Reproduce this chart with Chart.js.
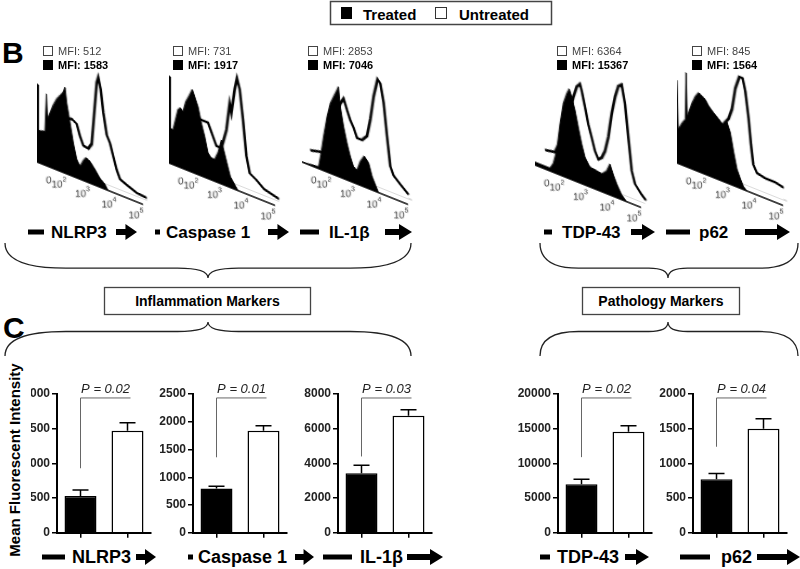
<!DOCTYPE html>
<html>
<head>
<meta charset="utf-8">
<script src="https://cdn.jsdelivr.net/npm/chart.js@4.4.1/dist/chart.umd.min.js"></script>
<style>
body { margin: 0; background: #fff; }
#fig { position: relative; width: 800px; height: 569px; overflow: hidden; font-family: "Liberation Sans", Arial, sans-serif; color: #000; }
#fig canvas { position: absolute; }
.t { position: absolute; white-space: nowrap; line-height: 1; transform: translateY(-50%); }
</style>
</head>
<body>
<div id="fig">
  <svg id="deco" width="800" height="569" style="position:absolute;left:0;top:0"></svg>
</div>
<script>
// ---- data ----
var markers = ['NLRP3', 'Caspase 1', 'IL-1β', 'TDP-43', 'p62'];
var groups = ['Treated', 'Untreated'];

// panel B: MFI values printed above each histogram
var mfiUntreated = [512, 731, 2853, 6364, 845];
var mfiTreated = [1583, 1917, 7046, 15367, 1564];

// panel B: histograms, [display channel, count]
var nlrp3Treated = [[0,78],[1,78],[1.5,32],[8,34],[9.5,72],[10.5,47],[16,63],[19.7,71],[26,80],[28,86],[29.7,71],[33,53],[36.3,34],[39.7,19],[43,13],[46.3,20],[49,24],[53,22],[58,16],[63,9],[68,5],[71,0]];
var nlrp3Untreated = [[0,20],[20,30],[28,45],[31.3,55],[34.7,57],[39.7,54],[43,43],[46.3,35],[51.3,34],[54.7,40],[57,69],[59.7,103],[61.3,109],[63.7,98],[66.3,76],[69.7,55],[73,48],[76.3,36],[79.7,24],[83,16],[89.7,13],[99.7,9],[109.7,8]];
var casp1Treated = [[0,87],[1,87],[1.5,35],[4,35],[9,57],[11.4,60],[14,57],[16.7,68],[20,75],[23.4,83],[25.7,77],[29,68],[32.4,53],[35.7,41],[39,26],[42.4,22],[45.7,22],[49,30],[52.4,44],[54.7,35],[58,23],[61.4,11],[65.7,5],[69,0]];
var casp1Untreated = [[0,20],[20,40],[28,50],[30.7,56],[35.7,56],[39,56],[44,44],[47.4,36],[52.4,36],[57.4,56],[60.7,84],[62.4,75],[65.7,100],[68,112],[70.7,102],[74,73],[77.4,38],[80.7,22],[87.4,18],[95,12],[110,8]];
var il1bTreated = [[0,0],[16.6,2],[19,16],[21.6,34],[25,55],[28.3,70],[31.6,78],[35,86],[36.5,90],[38.3,71],[41.6,52],[45,37],[48.3,25],[51.6,16],[55,14],[58.3,24],[62.3,31],[66.6,26],[70,14],[73.3,7],[76.6,0]];
var il1bUntreated = [[8.3,15],[20,18],[28,40],[38.3,74],[41.6,80],[45,70],[48.3,61],[51.6,55],[55,46],[60,46],[65,52],[68.3,70],[71.6,94],[75.6,113],[78.3,110],[81.6,92],[85,60],[88.3,31],[91.6,23],[98.3,17],[106.6,10]];
var tdp43Treated = [[0,3],[15,3],[18.3,9],[21.7,23],[25,51],[28.3,73],[31.7,84],[34.3,90],[36.7,83],[40,71],[43.3,55],[46.7,40],[50,28],[55,20],[61.7,19],[66.7,18],[71.7,23],[75,31],[78.3,22],[81.7,14],[86.7,5],[91.7,0]];
var tdp43Untreated = [[10,19],[20,21],[30,45],[38.3,83],[41.7,95],[45,99],[46.7,93],[50,78],[53.3,62],[56.7,50],[60,38],[63.3,31],[66.7,34],[70,42],[73.3,57],[76.7,82],[80,100],[83.3,112],[86.7,115],[90,97],[93.3,65],[96.7,33],[100,21],[106.7,13],[111,9]];
var p62Treated = [[0,83],[0.8,83],[1.2,34],[5,42],[8.3,47],[9.2,94],[10.2,50],[11.6,55],[15,66],[18.3,74],[21.6,79],[25,77],[28.3,75],[31.6,70],[36.6,65],[41.6,61],[46.6,56],[50,61],[53.3,52],[56.6,34],[60,18],[63.3,10],[66.6,3],[70,0]];
var p62Untreated = [[0,20],[30,50],[45,55],[51.6,65],[55,76],[58.3,98],[62.3,111],[65.6,111],[68.3,99],[71.6,73],[74,48],[76.3,29],[80,22],[88.3,20],[98.3,20],[106.6,18]];
var histTreated = [nlrp3Treated, casp1Treated, il1bTreated, tdp43Treated, p62Treated];
var histUntreated = [nlrp3Untreated, casp1Untreated, il1bUntreated, tdp43Untreated, p62Untreated];
var histTickLabels = [['0', ''], ['10', '2'], ['10', '3'], ['10', '4'], ['10', '5']];
var histTickPos = [11.7, 22, 45.5, 72, 99];

// panel C: bar heights and upper error bars
var treatedMean = [530, 800, 3430, 7000, 770];
var treatedSem = [85, 40, 460, 710, 85];
var untreatedMean = [1470, 1840, 6740, 14570, 1500];
var untreatedSem = [115, 90, 350, 860, 143];
var yMax = [2000, 2500, 8000, 20000, 2000];
var yStep = [500, 500, 2000, 5000, 500];
var pValues = ['0.02', '0.01', '0.03', '0.02', '0.04'];
var bracketLow = [930, 1360, 4400, 10900, 1240];
var bracketTop = [1943, 2429, 7770, 19430, 1943];

// ---- layout ----
var FONT = '"Liberation Sans", Arial, sans-serif';
Chart.defaults.font.family = FONT;
var SKEW = 0.4;
var histX0 = [37, 169, 302, 535, 677];
var histBase = [162, 163, 162, 165, 163];
var mfiX = [43, 173, 308, 557, 692];
var barAxisX = [57, 193, 338, 558, 693];
var rowB = [[28,44,51,116,137],[155,160,166,268,289],[300,319,329,385,412],[544,552,562,631,655],[666,690,699,745,790]];
var rowC = [[42,65,72,136,156],[188,193,198,295,314],[323,352,360,407,443],[540,550,557,625,649],[680,710,721,757,800]];

var fig = document.getElementById('fig');
var svg = document.getElementById('deco');

function addText(str, x, y, css) {
	var d = document.createElement('div');
	d.className = 't';
	d.textContent = str;
	d.style.left = x + 'px';
	d.style.top = y + 'px';
	for (var k in css) d.style[k] = css[k];
	fig.appendChild(d);
	return d;
}

function addShape(tag, attrs) {
	var el = document.createElementNS('http://www.w3.org/2000/svg', tag);
	for (var k in attrs) el.setAttribute(k, attrs[k]);
	svg.appendChild(el);
	return el;
}

function addCanvas(x, y, w, h) {
	var c = document.createElement('canvas');
	c.width = w; c.height = h;
	c.style.left = x + 'px';
	c.style.top = y + 'px';
	c.style.width = w + 'px';
	c.style.height = h + 'px';
	fig.appendChild(c);
	return c;
}

function arrowPath(x1, x2, yc) {
	var hl = Math.min(13, (x2 - x1) * 0.55);
	return 'M' + x1 + ',' + (yc - 3) + ' L' + (x2 - hl) + ',' + (yc - 3) + ' L' + (x2 - hl) + ',' + (yc - 8) +
		' L' + x2 + ',' + yc + ' L' + (x2 - hl) + ',' + (yc + 8) + ' L' + (x2 - hl) + ',' + (yc + 3) +
		' L' + x1 + ',' + (yc + 3) + ' Z';
}

function bracePath(x1, x2, xc, yEnd, yCusp) {
	var yM = yEnd + 0.72 * (yCusp - yEnd);
	var r1 = (xc - x1) * 0.3, r2 = (xc - x1) * 0.15;
	var r3 = (x2 - xc) * 0.15, r4 = (x2 - xc) * 0.3;
	return 'M' + x1 + ',' + yEnd + ' Q' + x1 + ',' + yM + ' ' + (x1 + r1) + ',' + yM +
		' L' + (xc - r2) + ',' + yM + ' Q' + xc + ',' + yM + ' ' + xc + ',' + yCusp +
		' Q' + xc + ',' + yM + ' ' + (xc + r3) + ',' + yM +
		' L' + (x2 - r4) + ',' + yM + ' Q' + x2 + ',' + yM + ' ' + x2 + ',' + yEnd;
}

// legend box
addShape('rect', {x: 330.5, y: 1.5, width: 221, height: 23, fill: '#fff', stroke: '#444', 'stroke-width': 1.5});
addShape('rect', {x: 341, y: 7, width: 11, height: 12, fill: '#000'});
addShape('rect', {x: 435.5, y: 7.5, width: 11, height: 11, fill: '#fff', stroke: '#333', 'stroke-width': 1});
addText(groups[0], 363, 13.5, {fontSize: '15px', fontWeight: 'bold'});
addText(groups[1], 459, 13.5, {fontSize: '15px', fontWeight: 'bold'});

// panel letters
addText('B', 2, 53, {fontSize: '30px', fontWeight: 'bold'});
addText('C', 3, 328, {fontSize: '30px', fontWeight: 'bold'});

// braces and group boxes
addShape('path', {d: bracePath(5, 411, 208, 243, 278), fill: 'none', stroke: '#222', 'stroke-width': 1.3});
addShape('path', {d: bracePath(540, 798, 668, 243, 278), fill: 'none', stroke: '#222', 'stroke-width': 1.3});
addShape('path', {d: bracePath(5, 411, 208, 356, 322), fill: 'none', stroke: '#222', 'stroke-width': 1.3});
addShape('path', {d: bracePath(540, 798, 668, 356, 322), fill: 'none', stroke: '#222', 'stroke-width': 1.3});
addShape('rect', {x: 104.5, y: 287.5, width: 206, height: 27, fill: '#fff', stroke: '#444', 'stroke-width': 1.3});
addShape('rect', {x: 582.5, y: 287.5, width: 157, height: 27, fill: '#fff', stroke: '#444', 'stroke-width': 1.3});
addText('Inflammation Markers', 207.5, 301, {fontSize: '14px', fontWeight: 'bold', transform: 'translate(-50%,-50%)'});
addText('Pathology Markers', 661, 301, {fontSize: '14px', fontWeight: 'bold', transform: 'translate(-50%,-50%)'});

// marker rows with intensity wedges
function markerRow(layout, yc, size) {
	layout.forEach(function (p, i) {
		addShape('rect', {x: p[0], y: yc - 2.5, width: p[1] - p[0], height: 5, fill: '#000'});
		addText(markers[i], p[2], yc, {fontSize: size + 'px', fontWeight: 'bold'});
		addShape('path', {d: arrowPath(p[3], p[4], yc), fill: '#000'});
	});
}
markerRow(rowB, 232, 17);
markerRow(rowC, 557, 18);

// y axis title
addText('Mean Fluorescent Intensity', 14, 460, {fontSize: '15px', fontWeight: 'bold', transform: 'translate(-50%,-50%) rotate(-90deg)'});

// ---- panel B histograms ----
function histDecor() {
	return {
		id: 'histDecor',
		beforeDatasetsDraw: function (chart) {
			var ctx = chart.ctx, xs = chart.scales.x, ys = chart.scales.y;
			ctx.save();
			ctx.strokeStyle = '#b5b5b5';
			ctx.lineWidth = 1;
			ctx.beginPath();
			ctx.moveTo(xs.getPixelForValue(40), ys.getPixelForValue(6));
			ctx.lineTo(xs.getPixelForValue(110), ys.getPixelForValue(6));
			ctx.stroke();
			ctx.restore();
		},
		afterDatasetsDraw: function (chart) {
			var ctx = chart.ctx, xs = chart.scales.x, ys = chart.scales.y;
			var y0 = ys.getPixelForValue(0);
			ctx.save();
			ctx.strokeStyle = '#000';
			ctx.lineWidth = 1.5;
			ctx.beginPath();
			ctx.moveTo(xs.getPixelForValue(0), y0);
			ctx.lineTo(xs.getPixelForValue(106), y0);
			ctx.stroke();
			ctx.fillStyle = '#333';
			ctx.textBaseline = 'middle';
			histTickLabels.forEach(function (lab, k) {
				ctx.save();
				ctx.translate(xs.getPixelForValue(histTickPos[k]), y0 + 14);
				ctx.transform(1, -SKEW, 0, 1, 0, 0);
				ctx.font = '10px ' + FONT;
				var w1 = ctx.measureText(lab[0]).width;
				ctx.font = '7px ' + FONT;
				var w2 = ctx.measureText(lab[1]).width;
				var left = -(w1 + w2) / 2;
				ctx.font = '10px ' + FONT;
				ctx.textAlign = 'left';
				ctx.fillText(lab[0], left, 0);
				ctx.font = '7px ' + FONT;
				ctx.fillText(lab[1], left + w1, -5);
				ctx.restore();
			});
			ctx.restore();
		}
	};
}

for (var i = 0; i < 5; i++) {
	var hc = addCanvas(histX0[i], histBase[i] - 120, 125, 150);
	hc.style.transformOrigin = '0px 120px';
	hc.style.transform = 'skewY(' + (Math.atan(SKEW) * 180 / Math.PI) + 'deg)';
	new Chart(hc, {
		type: 'line',
		data: {
			datasets: [
				{label: groups[0], data: histTreated[i], fill: 'origin', backgroundColor: '#000', borderColor: '#000', borderWidth: 1, pointRadius: 0, tension: 0},
				{label: groups[1], data: histUntreated[i], fill: {value: 6}, backgroundColor: '#fff', borderColor: '#000', borderWidth: 2.6, pointRadius: 0, tension: 0}
			]
		},
		options: {
			responsive: false,
			animation: false,
			events: [],
			layout: {padding: {top: 0, left: 0, right: 13, bottom: 30}, autoPadding: false},
			plugins: {legend: {display: false}, tooltip: {enabled: false}},
			scales: {
				x: {type: 'linear', min: 0, max: 112, display: false},
				y: {min: 0, max: 120, display: false}
			}
		},
		plugins: [histDecor()]
	});

	// MFI key above each histogram
	addShape('rect', {x: mfiX[i] + 0.5, y: 46.5, width: 9, height: 9, fill: '#fff', stroke: '#444', 'stroke-width': 1});
	addShape('rect', {x: mfiX[i], y: 60, width: 10, height: 10, fill: '#000'});
	addText('MFI: ' + mfiUntreated[i], mfiX[i] + 15, 51, {fontSize: '11px', color: '#444'});
	addText('MFI: ' + mfiTreated[i], mfiX[i] + 15, 65, {fontSize: '11px', fontWeight: 'bold'});
}

// ---- panel C bar charts ----
function barExtras(i) {
	return {
		id: 'barExtras',
		afterDatasetsDraw: function (chart) {
			var ctx = chart.ctx, ys = chart.scales.y;
			var bars = chart.getDatasetMeta(0).data;
			var tops = [treatedMean[i] + treatedSem[i], untreatedMean[i] + untreatedSem[i]];
			ctx.save();
			ctx.strokeStyle = '#000';
			ctx.lineWidth = 1.5;
			bars.forEach(function (bar, k) {
				var yt = ys.getPixelForValue(tops[k]);
				ctx.beginPath();
				ctx.moveTo(bar.x, bar.y);
				ctx.lineTo(bar.x, yt);
				ctx.moveTo(bar.x - 8, yt);
				ctx.lineTo(bar.x + 8, yt);
				ctx.stroke();
			});
			var yl = ys.getPixelForValue(bracketLow[i]);
			var yh = ys.getPixelForValue(bracketTop[i]);
			var xr = bars[1].x + 3;
			ctx.strokeStyle = '#666';
			ctx.lineWidth = 1;
			ctx.beginPath();
			ctx.moveTo(bars[0].x, yl);
			ctx.lineTo(bars[0].x, yh);
			ctx.lineTo(xr, yh);
			ctx.stroke();
			ctx.fillStyle = '#222';
			ctx.font = 'italic 13px ' + FONT;
			ctx.textAlign = 'center';
			ctx.textBaseline = 'alphabetic';
			ctx.fillText('P = ' + pValues[i], (bars[0].x + xr) / 2, yh - 5);
			ctx.restore();
		}
	};
}

for (var j = 0; j < 5; j++) {
	var bc = addCanvas(barAxisX[j] - 45, 370, 145, 172);
	if (j === 0) bc.style.clipPath = 'inset(0 0 0 19px)';
	new Chart(bc, {
		type: 'bar',
		data: {
			labels: groups,
			datasets: [{
				data: [treatedMean[j], untreatedMean[j]],
				backgroundColor: ['#000', '#fff'],
				borderColor: '#000',
				borderWidth: 1.5,
				barPercentage: 0.68,
				categoryPercentage: 1
			}]
		},
		options: {
			responsive: false,
			animation: false,
			events: [],
			layout: {padding: {top: 24, left: 0, right: 6, bottom: 0}},
			plugins: {legend: {display: false}, tooltip: {enabled: false}},
			scales: {
				x: {
					grid: {display: true, offset: false, drawOnChartArea: false, drawTicks: true, tickLength: 5, color: '#000', lineWidth: 1.5},
					border: {display: true, color: '#000', width: 2},
					ticks: {display: false},
					afterFit: function (s) { s.height = 8; }
				},
				y: {
					min: 0,
					max: yMax[j],
					ticks: {stepSize: yStep[j], color: '#222', padding: 2, font: {size: 12, weight: 'bold'}, callback: function (v) { return String(v); }},
					grid: {drawOnChartArea: false, tickLength: 5, color: '#000', lineWidth: 1.5},
					border: {display: true, color: '#000', width: 2},
					afterFit: function (s) { s.width = 45; }
				}
			}
		},
		plugins: [barExtras(j)]
	});
}
</script>
</body>
</html>
